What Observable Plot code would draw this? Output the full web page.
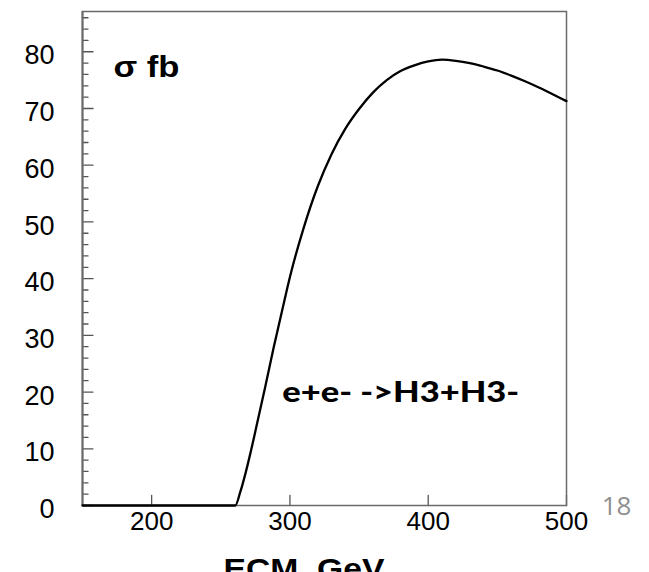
<!DOCTYPE html>
<html>
<head>
<meta charset="utf-8">
<script src="https://cdn.jsdelivr.net/npm/d3@7"></script>
<script src="https://cdn.jsdelivr.net/npm/@observablehq/plot@0.6"></script>
<style>
  html, body { margin: 0; padding: 0; background: #fff; width: 649px; height: 572px; overflow: hidden; }
  #chart { width: 649px; height: 572px; overflow: hidden; }
</style>
</head>
<body>
<div id="chart"></div>
<script>
// ---- data ----
const ecm   = [150, 200, 250, 260.5, 264, 268, 271.3, 276.2, 282.2, 288.2, 294.2, 300, 310, 320, 330, 340, 350, 360, 370, 380, 390, 400, 410, 420, 430, 440, 450, 460, 470, 480, 490, 500];
const sigma = [0,   0,   0,   0,     2.3, 5.8, 9.1,   14.4,  21.0,  27.8,  34.2,  40.3, 49.0, 56.2, 61.9, 66.4, 69.9, 72.8, 75.0, 76.6, 77.6, 78.3, 78.6, 78.4, 78.0, 77.4, 76.7, 75.8, 74.8, 73.7, 72.5, 71.3];

const xDomain = [150, 500];
const yDomain = [0, 87.1];
const xTickValues = [200, 300, 400, 500];
const yTickValues = [0, 10, 20, 30, 40, 50, 60, 70, 80];
const yMinorValues = [2, 4, 6, 8, 12, 14, 16, 18, 22, 24, 26, 28, 32, 34, 36, 38, 42, 44, 46, 48, 52, 54, 56, 58, 62, 64, 66, 68, 72, 74, 76, 78, 82, 84, 86];

const yLabel = "σ fb";
const processLabel = "e+e- ->H3+H3-";
const xLabel = "ECM, GeV";
const pageNumber = "18";

// ---- chart ----
const points = ecm.map((x, i) => ({x, y: sigma[i]}));
const tickShape = {draw(ctx, l) { ctx.moveTo(0, 0); ctx.lineTo(0, -l); }};
const axisGrey = "#6a6a6a";

const chart = Plot.plot({
  width: 649,
  height: 572,
  marginLeft: 82,
  marginRight: 83,
  marginTop: 11,
  marginBottom: 67,
  style: {background: "#fff", color: "#000", fontFamily: "'Liberation Sans', Arial, sans-serif"},
  x: {domain: xDomain},
  y: {domain: yDomain},
  marks: [
    Plot.axisX({ticks: xTickValues, tickSize: 0, tickPadding: 6, fontSize: 26, label: null, tickFormat: d => String(d)}),
    Plot.axisY({ticks: yTickValues, tickSize: 0, tickPadding: 28, fontSize: 27, dy: 4, label: null, tickFormat: d => String(d)}),
    Plot.vector(yMinorValues, {x: xDomain[0], y: d => d, length: 5.5, rotate: 90, anchor: "start", shape: tickShape, stroke: "#555", strokeWidth: 1.3}),
    Plot.vector(yTickValues, {x: xDomain[0], y: d => d, length: 10.5, rotate: 90, anchor: "start", shape: tickShape, stroke: "#555", strokeWidth: 1.3}),
    Plot.vector(xTickValues, {x: d => d, y: yDomain[0], length: 10, rotate: 0, anchor: "start", shape: tickShape, stroke: "#555", strokeWidth: 1.3}),
    Plot.frame({stroke: axisGrey, strokeWidth: 1.5}),
    Plot.ruleX([xDomain[0]], {stroke: axisGrey, strokeWidth: 2}),
    Plot.line(points, {x: "x", y: "y", curve: "monotone-x", stroke: "#000", strokeWidth: 2.3}),
    Plot.text([yLabel], {text: d => d, frameAnchor: "top-left", dx: 31, dy: 65.5, textAnchor: "start", lineAnchor: "bottom", fontSize: 29, fontWeight: "bold", fill: "#000"}),
    Plot.text([processLabel], {text: d => d, frameAnchor: "bottom-left", dx: 199.7, dy: -103.3, textAnchor: "start", lineAnchor: "bottom", fontSize: 29, fontWeight: 900, fontFamily: "Lato, 'Open Sans', sans-serif", fill: "#000"}),
    Plot.text([xLabel], {text: d => d, frameAnchor: "bottom", dx: -20.5, dy: 73, textAnchor: "middle", lineAnchor: "bottom", fontSize: 30, fontWeight: "bold", fill: "#000"}),
    Plot.text([pageNumber], {text: d => d, frameAnchor: "bottom-right", dx: 50, dy: 9, textAnchor: "middle", lineAnchor: "bottom", fontSize: 26, fontFamily: "'Open Sans', sans-serif", fill: "#8f8f8f"})
  ]
});

// stretch the annotations to the widths seen in the reference
const widths = new Map([[yLabel, 66], [processLabel, 237], [xLabel, 161]]);
d3.select(chart).selectAll("text").each(function () {
  const w = widths.get(this.textContent);
  if (w) { this.setAttribute("textLength", w); this.setAttribute("lengthAdjust", "spacingAndGlyphs"); }
});

document.getElementById("chart").append(chart);
</script>
</body>
</html>
